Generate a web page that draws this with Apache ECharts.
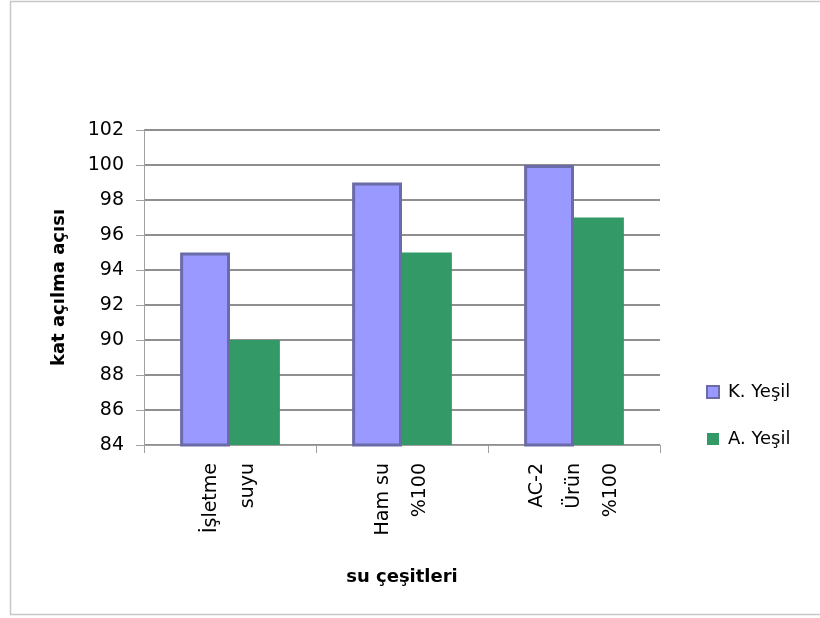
<!DOCTYPE html>
<html>
<head>
<meta charset="utf-8">
<script src="https://cdn.jsdelivr.net/npm/echarts@6/dist/echarts.min.js"></script>
<style>
  html, body { margin: 0; padding: 0; background: #fff; }
  #chart { width: 820px; height: 618px; }
</style>
</head>
<body>
<div id="chart"></div>
<script>
// Water types on the x axis
const categories = ['İşletme\nsuyu', 'Ham su\n%100', 'AC-2\nÜrün\n%100'];
// Angle values per series
const kYesil = [95, 99, 100];
const aYesil = [90, 95, 97];
const seriesNames = ['K. Yeşil', 'A. Yeşil'];
const yMin = 84, yMax = 102, yStep = 2;

const FONT = '"DejaVu Sans", "Open Sans", sans-serif';
const chart = echarts.init(document.getElementById('chart'), null, { renderer: 'canvas' });

chart.setOption({
  animation: false,
  backgroundColor: '#ffffff',
  textStyle: { fontFamily: FONT },
  graphic: [{
    type: 'rect',
    shape: { x: 10.5, y: 1.5, width: 830, height: 613 },
    style: { fill: 'none', stroke: '#c8c8c8', lineWidth: 1.5 },
    silent: true,
    z: -10
  }],
  grid: { left: 144, top: 130, width: 516, height: 315, containLabel: false },
  legend: {
    orient: 'vertical',
    left: 701,
    top: 378,
    itemWidth: 12,
    itemHeight: 12,
    itemGap: 29,
    icon: 'rect',
    textStyle: { fontFamily: FONT, fontSize: 18, color: '#000', padding: [0, 0, 0, 4] },
    data: seriesNames
  },
  xAxis: {
    type: 'category',
    data: categories,
    name: 'su çeşitleri',
    nameLocation: 'middle',
    nameGap: 123,
    nameTextStyle: { fontFamily: FONT, fontSize: 18, fontWeight: 'bold', color: '#000' },
    axisLine: { lineStyle: { color: '#a0a0a0', width: 1 } },
    axisTick: { show: true, length: 8, alignWithLabel: false, lineStyle: { color: '#a0a0a0' } },
    axisLabel: {
      rotate: 90,
      margin: 18,
      interval: 0,
      fontFamily: FONT,
      fontSize: 19,
      lineHeight: 37,
      color: '#000'
    }
  },
  yAxis: {
    type: 'value',
    min: yMin,
    max: yMax,
    interval: yStep,
    name: 'kat açılma açısı',
    nameLocation: 'middle',
    nameGap: 76,
    nameTextStyle: { fontFamily: FONT, fontSize: 18, fontWeight: 'bold', color: '#000' },
    axisLine: { show: true, lineStyle: { color: '#a0a0a0', width: 1 } },
    axisTick: { show: true, length: 8, lineStyle: { color: '#a0a0a0' } },
    axisLabel: { margin: 20, fontFamily: FONT, fontSize: 19, color: '#000' },
    splitLine: { show: true, lineStyle: { color: '#6a6a6a', width: 1.5 } }
  },
  series: [
    {
      name: seriesNames[0],
      type: 'bar',
      data: kYesil,
      barGap: '0%',
      barCategoryGap: '42%',
      itemStyle: { color: '#9999ff', borderColor: '#6b6ba8', borderWidth: 3 }
    },
    {
      name: seriesNames[1],
      type: 'bar',
      data: aYesil,
      barGap: '0%',
      barCategoryGap: '42%',
      itemStyle: { color: '#339966' }
    }
  ]
});
</script>
</body>
</html>
